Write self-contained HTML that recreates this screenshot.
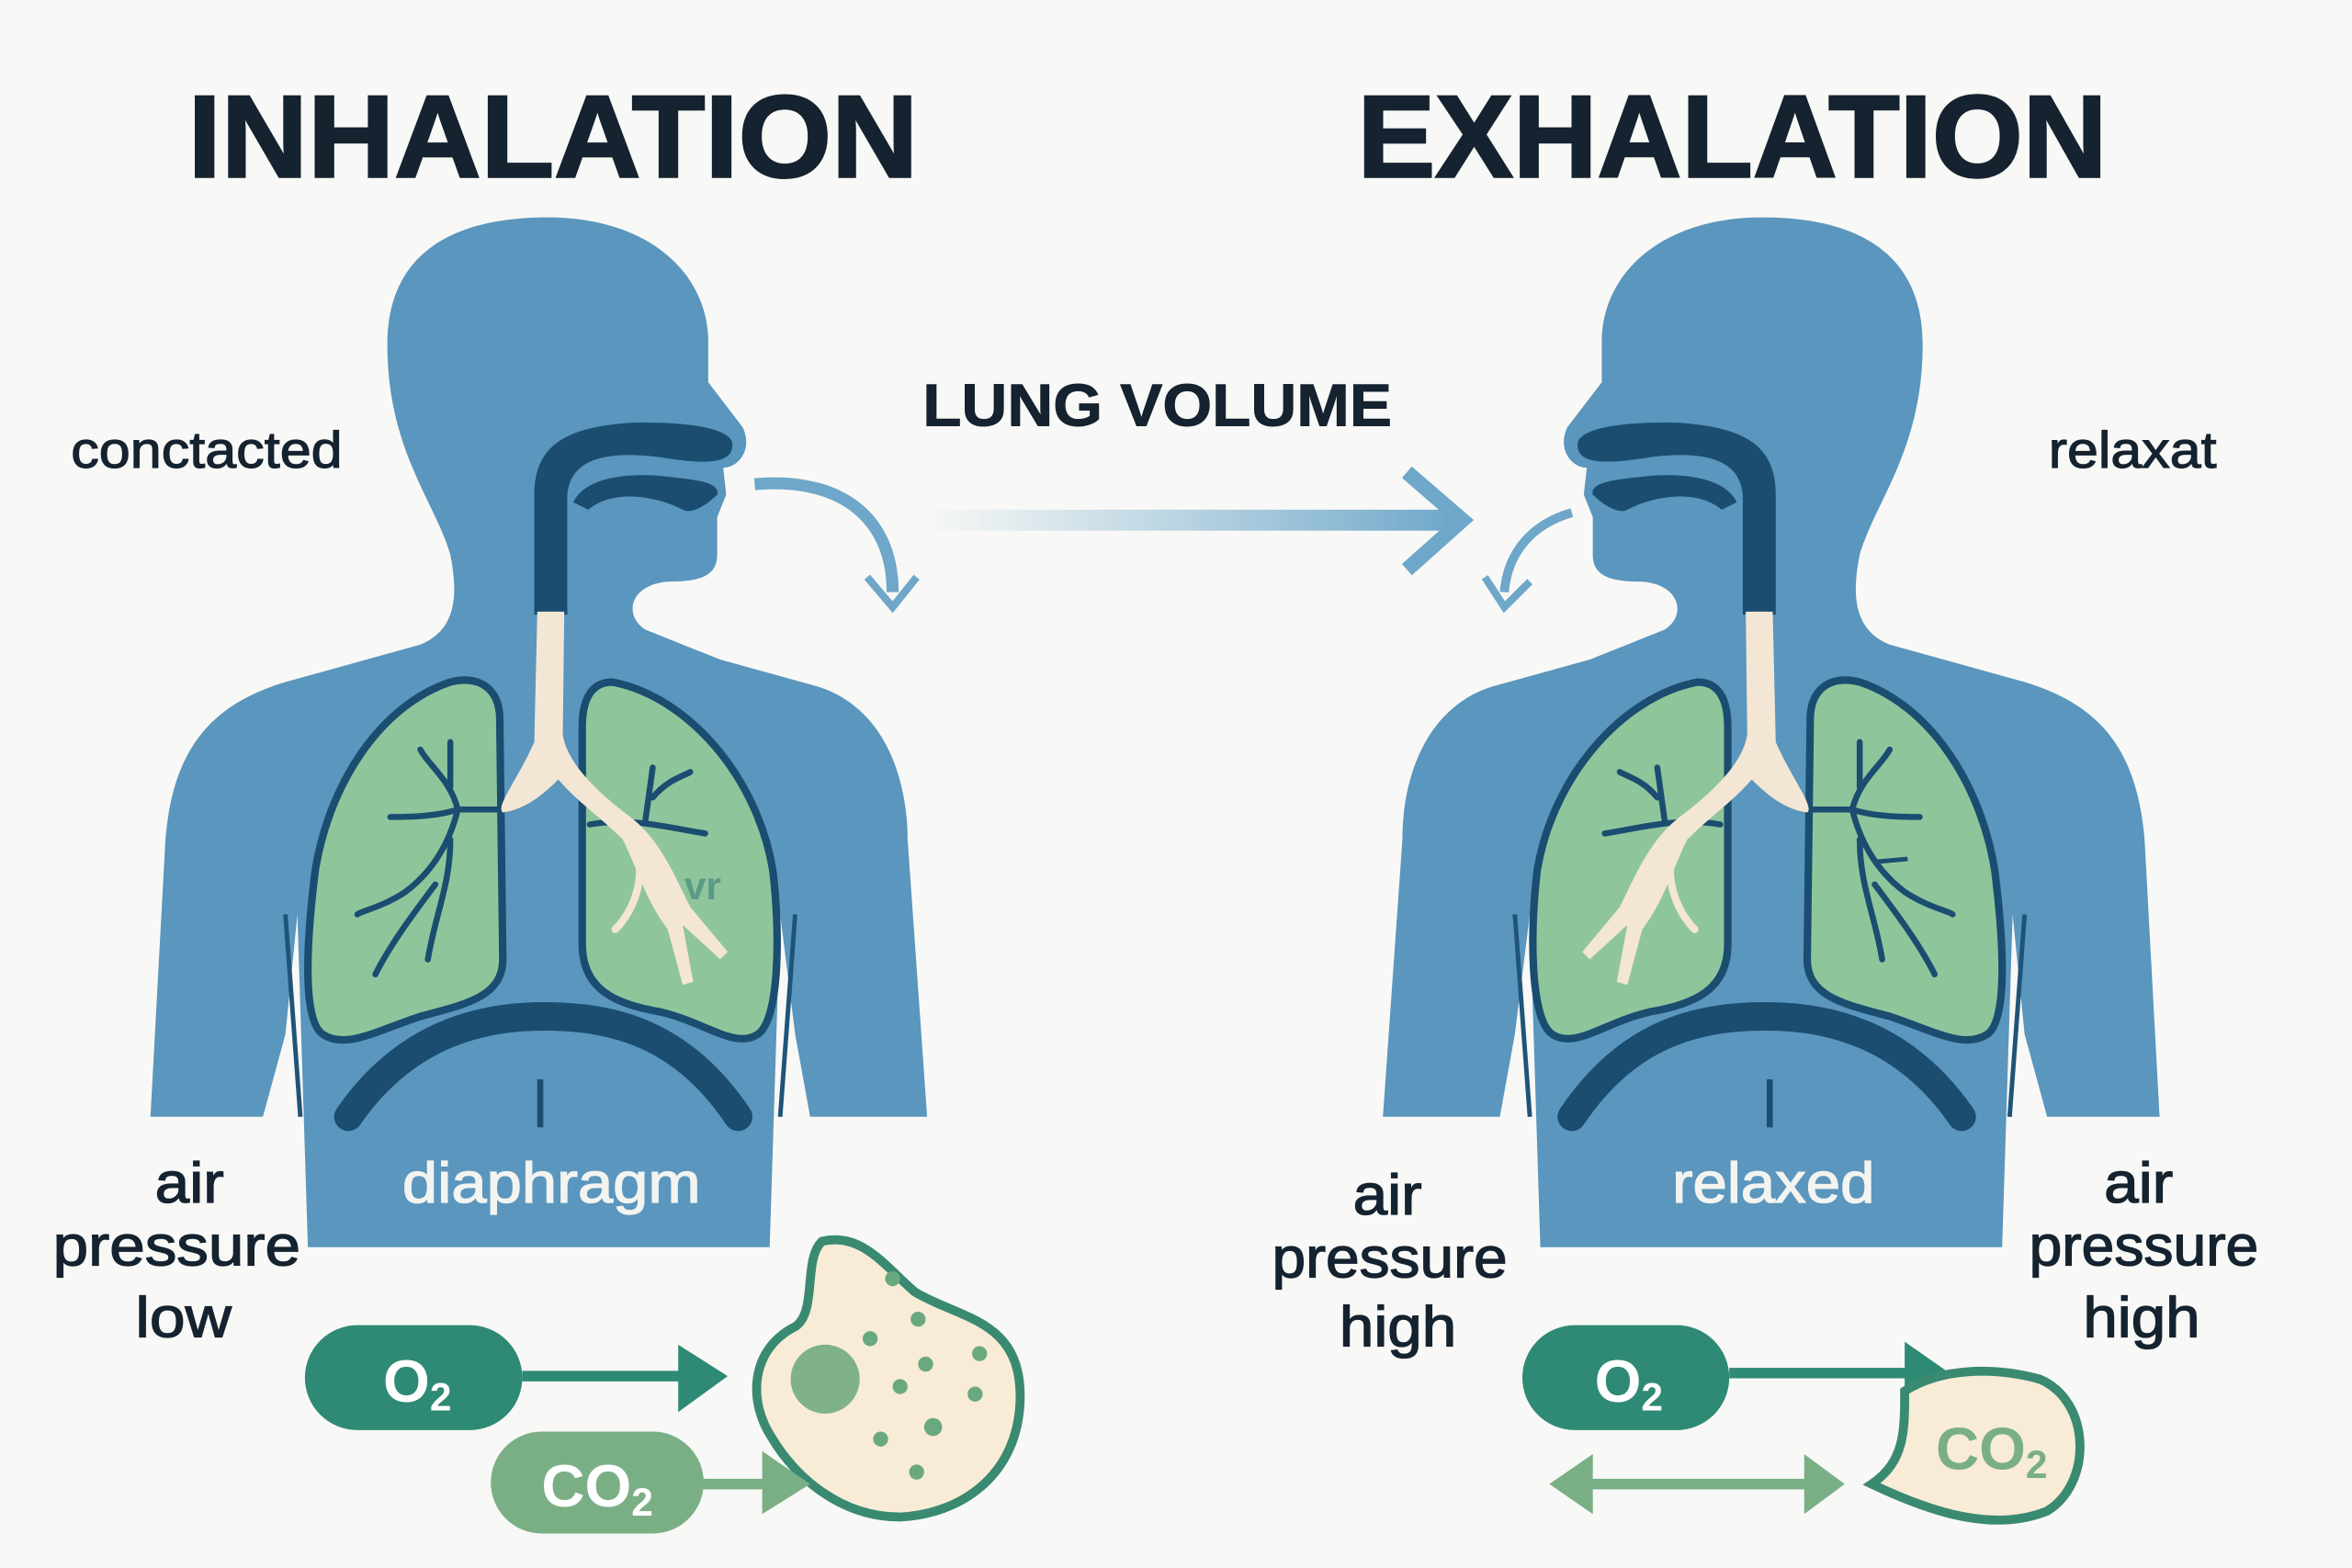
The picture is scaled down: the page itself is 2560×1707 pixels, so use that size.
<!DOCTYPE html>
<html><head><meta charset="utf-8"><style>
html,body{margin:0;padding:0;background:#f8f8f6;}
svg{display:block;}
text{font-family:"Liberation Sans",sans-serif;}
</style></head><body>
<svg width="2560" height="1707" viewBox="0 0 1568 1046" xmlns="http://www.w3.org/2000/svg">
<defs>
<linearGradient id="g" x1="0" x2="1"><stop offset="0" stop-color="#7fb2cf" stop-opacity="0"/><stop offset="1" stop-color="#6ea7c9"/></linearGradient>
<g id="fig">
  <path d="M258,230 C258,170 300,145 365,145 C430,145 470,180 472,225 L472,255 L495,285 C502,300 492,312 482,312 L484,330 L478,345 L478,370 C478,385 465,388 445,388 C420,390 415,410 430,420 L480,440 L545,458 C590,472 605,520 605,560 L618,745 L540,745 L530,690 L520,610 L513,832 L205,832 L198,610 L190,690 L175,745 L100,745 L110,560 C115,500 140,470 190,455 L280,430 C305,420 305,395 300,370 C290,335 258,300 258,230 Z" fill="#5a96bd"/>
  <path d="M190,610 L200,745 M530,610 L520,745" stroke="#1f5478" stroke-width="3" fill="none"/>
  <path d="M300,455 C320,450 333,460 333,480 L335,640 C335,665 310,670 280,678 C250,688 230,700 215,690 C200,680 205,620 210,580 C220,520 255,470 300,455 Z" fill="#8fc59b" stroke="#1a4d70" stroke-width="5"/>
  <path d="M408,455 C392,455 388,470 388,485 L388,630 C388,660 410,670 440,675 C470,682 490,700 505,690 C520,680 520,620 515,580 C505,520 460,465 408,455 Z" fill="#8fc59b" stroke="#1a4d70" stroke-width="5"/>
  <g stroke="#1a4d70" stroke-width="4" fill="none" stroke-linecap="round">
    <path d="M333,540 L305,540 C300,560 290,580 270,595 C255,605 240,608 238,610 M300,560 C300,590 290,610 285,640 M290,590 C275,610 260,630 250,650 M305,540 C290,545 270,545 260,545 M305,540 C300,520 285,510 280,500 M300,525 L300,495 M393,550 C420,545 445,552 470,556 M430,548 L435,512 M435,532 C445,520 455,518 460,515"/>
  </g>
  <path d="M356,410 L356,330 C356,295 380,285 420,282 C455,281 485,285 488,295 C490,310 470,310 440,305 C400,300 380,308 378,330 L378,410 Z" fill="#1a4d70"/>
  <path d="M382,335 C390,318 420,315 445,318 C465,320 480,322 478,330 C470,338 460,343 455,340 C440,332 410,325 392,340 Z" fill="#1a4d70"/>
  <path d="M358,408 L376,408 L375,490 C378,510 400,530 420,545 C440,560 450,585 460,605 L485,635 L480,640 L455,617 L462,655 L455,657 L445,620 C430,600 425,580 415,560 C400,545 385,535 372,520 C362,530 350,540 335,542 C330,538 345,520 356,495 Z" fill="#f3e6d4"/>
  <path d="M425,570 C430,590 420,610 410,620" stroke="#f3e6d4" stroke-width="5" fill="none" stroke-linecap="round"/>
  <path d="M232,745 C270,690 320,678 362,678 C410,678 455,690 492,745" stroke="#1a4d70" stroke-width="19" fill="none" stroke-linecap="round"/>
  <path d="M360,720 L360,752" stroke="#1a4d70" stroke-width="4"/>
</g>
</defs>
<rect width="1568" height="1046" fill="#f8f8f6"/>
<g font-weight="bold" fill="#15222f" stroke="#15222f" stroke-width="1.5">
<text x="125" y="118" font-size="78" textLength="487" lengthAdjust="spacingAndGlyphs">INHALATION</text>
<text x="905" y="118" font-size="78" textLength="500" lengthAdjust="spacingAndGlyphs">EXHALATION</text>
</g>
<use href="#fig"/>
<use href="#fig" transform="translate(1540,0) scale(-1,1)"/>
<text x="456" y="600" font-size="26" font-weight="bold" fill="#5a9a86">vr</text>
<path d="M1250,575 L1272,573" stroke="#1a4d70" stroke-width="3"/>
<text x="615" y="284" font-size="40" font-weight="bold" fill="#15222f" stroke="#15222f" stroke-width="0.6" textLength="313" lengthAdjust="spacingAndGlyphs">LUNG VOLUME</text>
<g font-size="34" fill="#15222f" stroke="#15222f" stroke-width="0.7">
<text x="47" y="312" textLength="181" lengthAdjust="spacingAndGlyphs">conctacted</text>
<text x="1366" y="312" textLength="112" lengthAdjust="spacingAndGlyphs">relaxat</text>
</g>
<path d="M503,323 C560,318 595,345 595,395" stroke="#6ea7c9" stroke-width="8" fill="none"/>
<path d="M578,385 L595,405 L611,385" stroke="#6ea7c9" stroke-width="5" fill="none"/>
<rect x="615" y="340" width="355" height="14" fill="url(#g)"/>
<path d="M938,315 L975,347 L938,380" stroke="#6ea7c9" stroke-width="10" fill="none"/>
<path d="M1048,342 C1020,350 1005,370 1003,395" stroke="#6ea7c9" stroke-width="6" fill="none"/>
<path d="M990,385 L1003,405 L1020,388" stroke="#6ea7c9" stroke-width="5" fill="none"/>
<g font-size="38" fill="#15222f" stroke="#15222f" stroke-width="0.8" lengthAdjust="spacingAndGlyphs">
<text x="103" y="802" textLength="46" lengthAdjust="spacingAndGlyphs">air</text>
<text x="35" y="844" textLength="165" lengthAdjust="spacingAndGlyphs">pressure</text>
<text x="90" y="892" textLength="64" lengthAdjust="spacingAndGlyphs">low</text>
<text x="902" y="810" textLength="46" lengthAdjust="spacingAndGlyphs">air</text>
<text x="848" y="852" textLength="157" lengthAdjust="spacingAndGlyphs">pressure</text>
<text x="893" y="898" textLength="78" lengthAdjust="spacingAndGlyphs">high</text>
<text x="1403" y="802" textLength="46" lengthAdjust="spacingAndGlyphs">air</text>
<text x="1353" y="844" textLength="153" lengthAdjust="spacingAndGlyphs">pressure</text>
<text x="1389" y="892" textLength="78" lengthAdjust="spacingAndGlyphs">high</text>
</g>
<g font-size="38" fill="#f3f3f0" stroke="#f3f3f0" stroke-width="0.8">
<text x="268" y="802" textLength="199" lengthAdjust="spacingAndGlyphs">diaphragm</text>
<text x="1115" y="802" textLength="135" lengthAdjust="spacingAndGlyphs">relaxed</text>
</g>
<path d="M548,828 C575,822 590,845 610,862 C640,880 682,880 680,935 C678,985 640,1010 600,1012 C560,1012 530,985 515,960 C498,935 500,900 530,885 C545,875 535,840 548,828 Z" fill="#f8ecd6" stroke="#3a8a72" stroke-width="6"/>
<circle cx="550" cy="920" r="23" fill="#7fb28a"/>
<g fill="#6aa880"><circle cx="595" cy="853" r="5"/><circle cx="612" cy="880" r="5"/><circle cx="580" cy="893" r="5"/><circle cx="617" cy="910" r="5"/><circle cx="653" cy="903" r="5"/><circle cx="600" cy="925" r="5"/><circle cx="650" cy="930" r="5"/><circle cx="622" cy="952" r="6"/><circle cx="587" cy="960" r="5"/><circle cx="611" cy="982" r="5"/></g>
<rect x="203" y="884" width="145" height="70" rx="35" fill="#2e8a74"/>
<text x="278" y="935" font-size="40" font-weight="bold" fill="#fff" text-anchor="middle">O<tspan font-size="26" dy="6">2</tspan></text>
<path d="M348,918 L455,918" stroke="#2e8a74" stroke-width="7"/>
<path d="M452,897 L485,918 L452,942 Z" fill="#2e8a74"/>
<rect x="327" y="955" width="142" height="68" rx="34" fill="#7aaf85"/>
<text x="398" y="1005" font-size="40" font-weight="bold" fill="#fff" text-anchor="middle">CO<tspan font-size="26" dy="6">2</tspan></text>
<path d="M468,990 L510,990" stroke="#7aaf85" stroke-width="7"/>
<path d="M508,968 L540,990 L508,1010 Z" fill="#7aaf85"/>
<rect x="1015" y="884" width="138" height="70" rx="35" fill="#2e8a74"/>
<text x="1086" y="935" font-size="40" font-weight="bold" fill="#fff" text-anchor="middle">O<tspan font-size="26" dy="6">2</tspan></text>
<path d="M1153,916 L1275,916" stroke="#2e8a74" stroke-width="7"/>
<path d="M1270,895 L1300,916 L1270,938 Z" fill="#2e8a74"/>
<path d="M1270,928 C1295,912 1330,912 1360,920 C1395,935 1395,990 1365,1008 C1330,1022 1290,1010 1248,990 C1270,975 1270,955 1270,928 Z" fill="#f8ecd6" stroke="#3a8a72" stroke-width="6"/>
<text x="1328" y="980" font-size="40" font-weight="bold" fill="#7aaf85" text-anchor="middle">CO<tspan font-size="26" dy="6">2</tspan></text>
<path d="M1060,990 L1205,990" stroke="#7aaf85" stroke-width="7"/>
<path d="M1062,970 L1033,990 L1062,1010 Z M1203,970 L1230,990 L1203,1010 Z" fill="#7aaf85"/>
</svg>
</body></html>
